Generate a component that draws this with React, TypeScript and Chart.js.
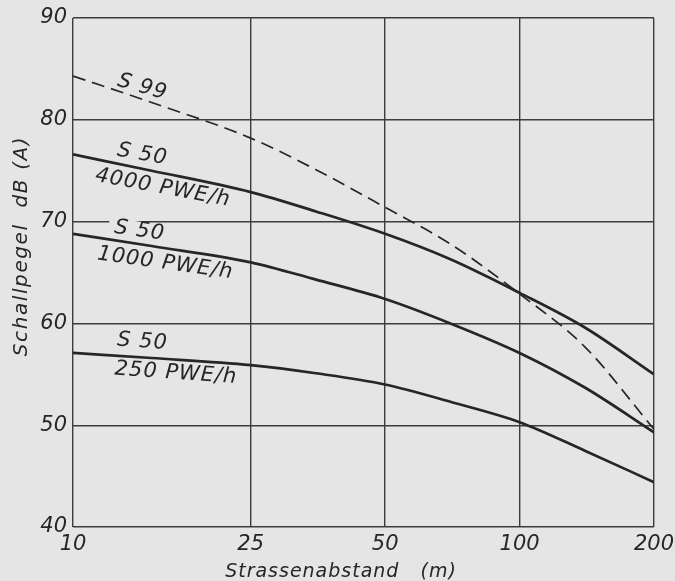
import React, { useEffect, useRef } from "react";
import { Chart, registerables } from "chart.js";

Chart.register(...registerables);

const distances = [10, 15, 25, 35, 50, 70, 100, 140, 200];
const s99 = [84.3, 81.7, 78.2, 75.1, 71.4, 67.8, 62.9, 57.7, 49.6];
const s50_4000 = [76.6, 75.0, 72.9, 71.0, 68.8, 66.3, 63.0, 59.6, 55.0];
const s50_1000 = [68.8, 67.6, 66.0, 64.3, 62.4, 60.0, 57.1, 53.7, 49.3];
const s50_250 = [57.1, 56.6, 55.9, 55.1, 54.0, 52.3, 50.3, 47.5, 44.4];

const xTicks = [10, 25, 50, 100, 200];
const yTicks = [40, 50, 60, 70, 80, 90];

const curveLabels = [
  { text: "S 99", x: 14.3, y: 83.2, angle: 16 },
  { text: "S 50", x: 14.3, y: 76.6, angle: 10 },
  { text: "4000 PWE/h", x: 15.9, y: 73.3, angle: 10.5 },
  { text: "S 50", x: 14.1, y: 69.1, angle: 8 },
  { text: "1000 PWE/h", x: 16.1, y: 65.9, angle: 8 },
  { text: "S 50", x: 14.3, y: 58.2, angle: 4 },
  { text: "250 PWE/h", x: 17.0, y: 55.1, angle: 4 },
];

const xTitle = "Strassenabstand   (m)";
const yTitle = "Schallpegel  dB (A)";

const BG = "#e5e5e5";
const INK = "#262626";
const GRID = "#3c3c3c";
const FONT = '"DejaVu Sans", sans-serif';

export default function App() {
  const ref = useRef<HTMLCanvasElement | null>(null);

  useEffect(() => {
    document.body.style.margin = "0";
    document.body.style.background = BG;
    const canvas = ref.current;
    if (!canvas) return;

    const bgPlugin = {
      id: "bg",
      beforeDraw(chart: any) {
        const c = chart.ctx;
        c.save();
        c.fillStyle = BG;
        c.fillRect(0, 0, chart.width, chart.height);
        c.restore();
      },
    };

    const labelPlugin = {
      id: "curveLabels",
      beforeDatasetsDraw(chart: any) {
        const c = chart.ctx;
        const xs = chart.scales.x;
        const ys = chart.scales.y;
        c.save();
        c.font = `italic 21px ${FONT}`;
        (c as any).letterSpacing = "1px";
        c.textAlign = "center";
        c.textBaseline = "middle";
        for (const l of curveLabels) {
          const px = xs.getPixelForValue(l.x);
          const py = ys.getPixelForValue(l.y);
          c.save();
          c.translate(px, py);
          c.rotate((l.angle * Math.PI) / 180);
          const w = c.measureText(l.text).width;
          c.fillStyle = BG;
          c.fillRect(-w / 2 - 6, -9, w + 12, 18);
          c.fillStyle = INK;
          c.fillText(l.text, 0, 0);
          c.restore();
        }
        // axis titles
        const area = chart.chartArea;
        c.fillStyle = INK;
        c.font = `italic 19px ${FONT}`;
        (c as any).letterSpacing = "1px";
        c.fillText(xTitle, 341, area.bottom + 45);
        c.font = `italic 20px ${FONT}`;
        (c as any).letterSpacing = "1.6px";
        c.save();
        c.translate(22, 246);
        c.rotate(-Math.PI / 2);
        c.fillText(yTitle, 0, 0);
        c.restore();
        c.restore();
      },
    };

    const mk = (label: string, data: number[], dashed: boolean) => ({
      label,
      data: distances.map((d, i) => ({ x: d, y: data[i] })),
      borderColor: INK,
      borderWidth: dashed ? 1.7 : 2.7,
      borderDash: dashed ? [13, 7] : [],
      pointRadius: 0,
      fill: false,
      cubicInterpolationMode: "monotone" as const,
    });

    const chart = new Chart(canvas, {
      type: "line",
      data: {
        datasets: [
          mk("S 99", s99, true),
          mk("S 50 4000 PWE/h", s50_4000, false),
          mk("S 50 1000 PWE/h", s50_1000, false),
          mk("S 50 250 PWE/h", s50_250, false),
        ],
      },
      options: {
        responsive: false,
        animation: false,
        layout: { padding: { top: 18, right: 21, left: 0, bottom: 0 } },
        plugins: {
          legend: { display: false },
          tooltip: { enabled: false },
        },
        scales: {
          x: {
            type: "logarithmic",
            min: 10,
            max: 200,
            afterBuildTicks: (s: any) => {
              s.ticks = xTicks.map((v) => ({ value: v }));
            },
            afterFit: (s: any) => {
              s.height = 54;
              s.paddingLeft = 0;
              s.paddingRight = 0;
            },
            ticks: {
              callback: (v: any) => String(v),
              color: INK,
              font: { family: FONT, size: 21, style: "italic" },
              padding: 5,
              maxRotation: 0,
              autoSkip: false,
            },
            grid: { color: GRID, lineWidth: 1.4, drawTicks: false },
            border: { display: false },
          },
          y: {
            type: "linear",
            min: 40,
            max: 90,
            afterBuildTicks: (s: any) => {
              s.ticks = yTicks.map((v) => ({ value: v }));
            },
            afterFit: (s: any) => {
              s.width = 73;
              s.paddingTop = 0;
              s.paddingBottom = 0;
            },
            ticks: {
              color: INK,
              font: { family: FONT, size: 21, style: "italic" },
              padding: 6,
            },
            grid: { color: GRID, lineWidth: 1.4, drawTicks: false },
            border: { display: false },
          },
        },
      },
      plugins: [bgPlugin, labelPlugin],
    });

    return () => chart.destroy();
  }, []);

  return (
    <div style={{ width: 675, height: 581, background: BG }}>
      <canvas ref={ref} width={675} height={581} style={{ display: "block" }} />
    </div>
  );
}
